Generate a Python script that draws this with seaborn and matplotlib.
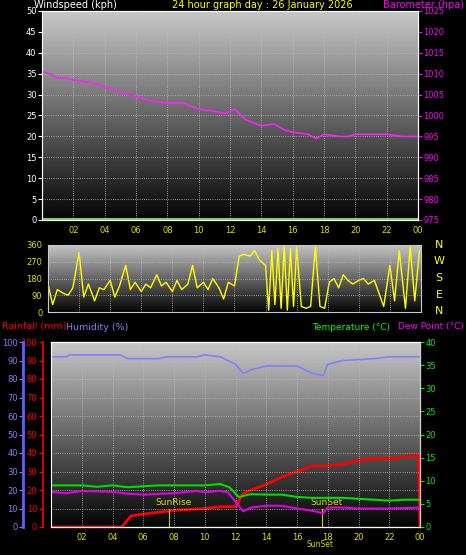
import numpy as np
import pandas as pd
import matplotlib
matplotlib.use("Agg")
import matplotlib.pyplot as plt
import seaborn as sns

sns.set_style("dark")
plt.rcParams['font.family'] = ['DejaVu Sans']

# ---- data ----
baro_h = [0, 0.5, 1, 1.5, 2, 3, 4, 5, 6, 7, 8, 9, 10, 11, 11.7, 12.3, 13, 14, 14.8, 15.5, 16, 17, 17.5, 18, 19, 19.5, 20, 21, 22, 23, 24]
baro_v = [1010.5, 1010, 1009, 1009, 1008.5, 1008, 1007, 1005.5, 1004.5, 1003.5, 1003, 1003, 1001.5, 1001, 1000.5, 1001.5, 999, 997.5, 998, 996.5, 996, 995.5, 994.5, 995.5, 995, 995, 995.5, 995.5, 995.5, 995, 995]
wind_h = [0, 24]
wind_v = [0.3, 0.3]

dir_h = [0, 0.3, 0.6, 1, 1.3, 1.6, 2, 2.3, 2.6, 3, 3.3, 3.6, 4, 4.3, 4.6, 5, 5.3, 5.6, 6, 6.3, 6.6, 7, 7.3, 7.6, 8, 8.3, 8.6, 9, 9.3, 9.6, 10, 10.3, 10.6, 11, 11.3, 11.6, 12, 12.3, 12.6, 13, 13.3, 13.6, 14, 14.2, 14.4, 14.6, 14.8, 15, 15.2, 15.4, 15.6, 15.8, 16, 16.3, 16.6, 16.9, 17.2, 17.5, 17.8, 18.1, 18.4, 18.7, 19, 19.3, 19.6, 20, 20.3, 20.6, 21, 21.3, 21.6, 22, 22.3, 22.6, 23, 23.3, 23.6, 23.9]
dir_v = [150, 40, 120, 100, 90, 130, 320, 80, 150, 60, 130, 120, 170, 80, 140, 250, 120, 160, 110, 150, 130, 200, 140, 160, 110, 170, 120, 150, 250, 130, 160, 120, 180, 130, 70, 160, 140, 300, 310, 300, 330, 280, 250, 10, 330, 40, 340, 20, 350, 10, 340, 30, 350, 30, 20, 30, 350, 30, 20, 160, 180, 130, 200, 170, 150, 170, 180, 150, 170, 100, 30, 250, 60, 330, 20, 350, 60, 330]

hum_h = [0, 1, 1.2, 4.5, 5, 7, 7.5, 9.5, 10, 11, 12, 12.5, 13, 14, 16, 17, 17.7, 18, 19, 21, 22, 24]
hum_v = [92, 92, 93, 93, 91, 91, 92, 92, 93, 92, 88, 83, 85, 87, 87, 83, 82, 88, 90, 91, 92, 92]
temp_h = [0, 2, 3, 4, 5, 7, 10, 11, 11.6, 12.2, 13, 14, 15, 16, 17, 19, 20, 22, 23, 24]
temp_v = [9, 9, 8.7, 9, 8.6, 9, 9, 9.3, 8.6, 6.5, 7.1, 7, 7, 6.5, 6.3, 6.3, 6.1, 5.7, 5.9, 5.9]
dew_h = [0, 1, 2, 4, 5, 6, 8, 9.5, 10, 11, 11.5, 12.5, 13, 14, 15, 16, 17, 17.7, 18, 19, 20, 22, 24]
dew_v = [7.6, 7.3, 7.8, 7.6, 7.2, 7, 7.3, 7.8, 7.5, 7.8, 7.5, 3.4, 4.2, 4.6, 4.6, 4, 3.5, 3, 4.2, 4.2, 4, 4, 4.2]
rain_h = [0, 4.6, 5.2, 6, 7, 8, 9, 10, 11, 12, 12.5, 13, 14, 15, 16, 17, 18, 19, 20, 21, 22, 23, 23.9, 24]
rain_v = [0, 0, 6, 7, 8, 9, 9.5, 10, 11, 11, 18, 20, 23, 27, 30, 33, 33, 34, 36, 37, 37, 38, 39, 0]
sunrise, sunset = 7.7, 17.6

hours = list(range(2, 25, 2))
hour_labels = ["%02d" % (h % 24) for h in hours]

fig = plt.figure(figsize=(4.66, 5.55), dpi=100, facecolor="black")
W, H = 466, 555

def add_axes(x0, y0, x1, y1):
    return fig.add_axes([x0 / W, 1 - y1 / H, (x1 - x0) / W, (y1 - y0) / H])

grad = np.linspace(0.78, 0.02, 256).reshape(-1, 1)

def style(ax, ylo, yhi, ystep, color):
    ax.imshow(grad, extent=[0, 24, ylo, yhi], aspect="auto", cmap="gray", vmin=0, vmax=1, zorder=0)
    ax.set_xlim(0, 24)
    ax.set_ylim(ylo, yhi)
    ax.set_xticks(hours)
    ax.set_yticks(np.arange(ylo, yhi + 0.1, ystep))
    ax.grid(True, color="#bbbbbb", linestyle=":", linewidth=0.6)
    ax.set_axisbelow(False)
    ax.tick_params(axis="y", colors=color, labelsize=6, length=3, pad=1)
    ax.tick_params(axis="x", colors="#e0e000", labelsize=6, length=2, pad=2)
    for s in ax.spines.values():
        s.set_color("#cccccc")
    ax.set_facecolor("black")

# ---- panel 1 ----
ax1 = add_axes(42, 11, 418, 220)
style(ax1, 0, 50, 5, "white")
ax1.set_xticklabels(hour_labels)
sns.lineplot(x=wind_h, y=wind_v, ax=ax1, color="#80ff80", linewidth=1.2)
ax1b = ax1.twinx()
ax1b.set_ylim(975, 1025)
ax1b.set_yticks(range(975, 1026, 5))
ax1b.tick_params(axis="y", colors="magenta", labelsize=6, length=3, pad=1)
sns.lineplot(x=baro_h, y=baro_v, ax=ax1b, color="#ff20ff", linewidth=1.2)
fig.text(34 / W, 1 - 5 / H, "Windspeed (kph)", color="white", fontsize=7, va="center")
fig.text(172 / W, 1 - 5 / H, "24 hour graph day : 26 January 2026", color="yellow", fontsize=7, va="center")
fig.text(464 / W, 1 - 5 / H, "Barometer (hpa)", color="magenta", fontsize=7, va="center", ha="right")

# ---- panel 2 ----
ax2 = add_axes(48, 245, 421, 312)
style(ax2, 0, 360, 90, "#e0e000")
ax2.set_xticklabels([])
sns.lineplot(x=dir_h, y=dir_v, ax=ax2, color="yellow", linewidth=1.0)
for lbl, yy in zip("NWSEN", [245, 261, 278, 295, 311]):
    fig.text(439 / W, 1 - yy / H, lbl, color="yellow", fontsize=8, va="center", ha="center")

# ---- panel 3 ----
fig.text(2 / W, 1 - 327 / H, "Rainfall (mm)", color="red", fontsize=6.8, va="center")
fig.text(66 / W, 1 - 327 / H, "Humidity (%)", color="#8080ff", fontsize=6.8, va="center")
fig.text(312 / W, 1 - 327 / H, "Temperature (\u00b0C)", color="#00ff00", fontsize=6.5, va="center")
fig.text(464 / W, 1 - 327 / H, "Dew Point (\u00b0C)", color="magenta", fontsize=6.5, va="center", ha="right")

ax3 = add_axes(51, 342, 420, 527)
style(ax3, 0, 100, 10, "red")
ax3.set_xticklabels(hour_labels)
ax3.spines["left"].set_color("#cc0000")
ax3.spines["left"].set_linewidth(1.5)
ax3.spines["left"].set_position(("outward", 6))
ax3h = ax3.twinx()
ax3h.set_ylim(0, 100)
ax3h.yaxis.set_ticks_position("left")
ax3h.spines["left"].set_visible(True)
ax3h.spines["left"].set_position(("outward", 20))
ax3h.spines["left"].set_color("#6060ff")
ax3h.spines["left"].set_linewidth(2)
ax3h.set_yticks(range(0, 101, 10))
ax3h.tick_params(axis="y", colors="#8080ff", labelsize=6, length=3, pad=1, left=True, labelleft=True, right=False, labelright=False)
ax3t = ax3.twinx()
ax3t.set_ylim(0, 40)
ax3t.set_yticks(range(0, 41, 5))
ax3t.tick_params(axis="y", colors="#00ee00", labelsize=6, length=3, pad=1)
ax3t.spines["right"].set_color("#cccccc")

sns.lineplot(x=hum_h, y=hum_v, ax=ax3h, color="#8080ff", linewidth=1.2)
sns.lineplot(x=temp_h, y=temp_v, ax=ax3t, color="#00dd00", linewidth=1.5)
sns.lineplot(x=dew_h, y=dew_v, ax=ax3t, color="#e000e0", linewidth=1.5)
sns.lineplot(x=rain_h, y=rain_v, ax=ax3, color="red", linewidth=2)
for xs, name in [(sunrise, "SunRise"), (sunset, "SunSet")]:
    ax3.axvline(xs, ymin=0, ymax=0.1, color="#c8c800", linewidth=0.8)
    ax3.text(xs + 0.3, 11, name, color="#d8d800", fontsize=6.5, ha="center", va="bottom")
ax3.text(sunset - 0.1, -7, "SunSet", color="#d8d800", fontsize=5.5, ha="center", va="top")

plt.savefig("out.png", dpi=100, facecolor="black")
